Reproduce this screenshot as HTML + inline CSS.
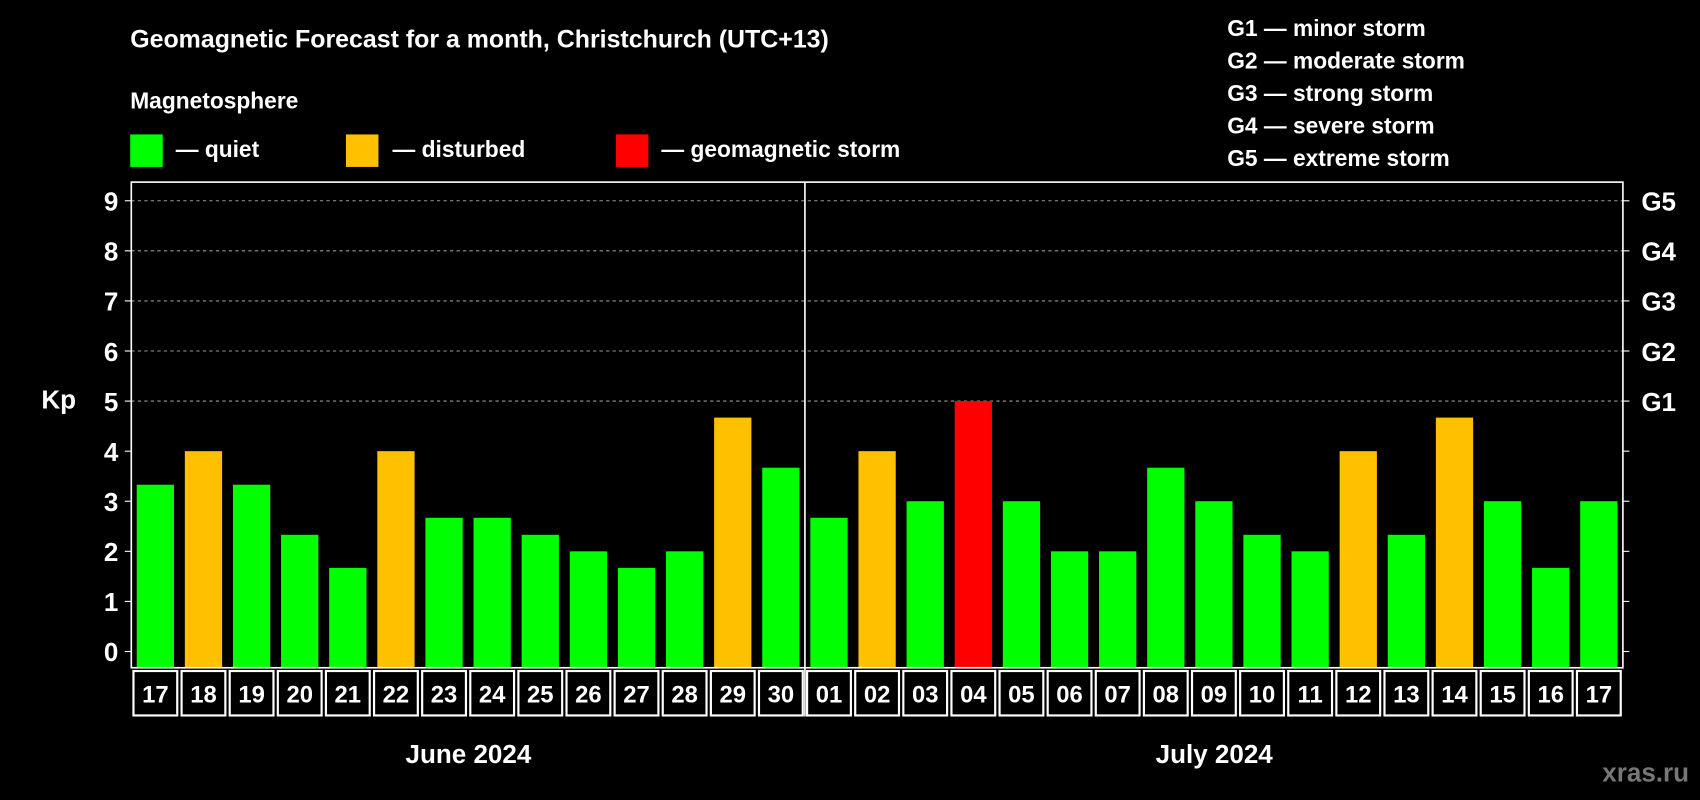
<!DOCTYPE html>
<html><head><meta charset="utf-8"><style>
html,body{margin:0;padding:0;background:#000;}
svg{display:block;font-family:"Liberation Sans",Arial,sans-serif;font-weight:bold;}
</style></head><body>
<svg id="chart" width="1700" height="800" viewBox="0 0 1568 738" xmlns="http://www.w3.org/2000/svg">
<rect x="0" y="0" width="1568" height="738" fill="#000"/>
<text x="120" y="44" fill="#fff" font-size="23">Geomagnetic Forecast for a month, Christchurch (UTC+13)</text>
<text x="120" y="100" fill="#fff" font-size="21">Magnetosphere</text>
<g><rect x="120" y="124" width="30" height="30" fill="#00ff00"/><text x="162" y="145" fill="#fff" font-size="21">— quiet</text></g>
<g><rect x="319" y="124" width="30" height="30" fill="#ffc000"/><text x="362" y="145" fill="#fff" font-size="21">— disturbed</text></g>
<g><rect x="568" y="124" width="30" height="30" fill="#ff0000"/><text x="610" y="145" fill="#fff" font-size="21">— geomagnetic storm</text></g>
<g fill="#fff" font-size="21">
<text x="1132" y="33">G1 — minor storm</text><text x="1132" y="63">G2 — moderate storm</text><text x="1132" y="93">G3 — strong storm</text><text x="1132" y="123">G4 — severe storm</text><text x="1132" y="153">G5 — extreme storm</text>
</g>
<text x="38" y="377" fill="#fff" font-size="24">Kp</text>
<text x="432" y="704" fill="#fff" font-size="24" text-anchor="middle">June 2024</text>
<text x="1120" y="704" fill="#fff" font-size="24" text-anchor="middle">July 2024</text>
<text x="1558" y="721" fill="#777" font-size="24" text-anchor="end">xras.ru</text>
<g id="plot"></g>
</svg>
<script>
const days=["17","18","19","20","21","22","23","24","25","26","27","28","29","30","01","02","03","04","05","06","07","08","09","10","11","12","13","14","15","16","17"];
const kp=[3.33,4,3.33,2.33,1.67,4,2.67,2.67,2.33,2,1.67,2,4.67,3.67,2.67,4,3,5,3,2,2,3.67,3,2.33,2,4,2.33,4.67,3,1.67,3];
const yTicks=[0,1,2,3,4,5,6,7,8,9];
const gLabels=["","","","","","G1","G2","G3","G4","G5"];
const NS="http://www.w3.org/2000/svg";
const L=121,R=1497,T=168,B=616,Y0=601,U=46.2;
const slot=(R-L)/days.length;
const x=i=>L+i*slot;
const y=v=>Y0-v*U;
const g=document.getElementById('plot');
function mk(t,a){const e=document.createElementNS(NS,t);for(const k in a)e.setAttribute(k,a[k]);g.appendChild(e);return e;}
yTicks.forEach(v=>{
  if(v>=5){const l=mk('line',{x1:L,x2:R,y1:y(v),y2:y(v),stroke:'#999','stroke-dasharray':'3,3','stroke-width':1});
  
  }
  const tl=mk('line',{x1:L-6,x2:L,y1:y(v),y2:y(v),stroke:'#fff'});
  
  
  const tr=mk('line',{x1:R,x2:R+6,y1:y(v),y2:y(v),stroke:'#fff'});
  
  
  const t=mk('text',{x:L-12,y:y(v)+9,fill:'#fff','font-size':24,'text-anchor':'end'});t.textContent=v;
  
  
  if(gLabels[v]){const gt=mk('text',{x:R+17,y:y(v)+9,fill:'#fff','font-size':24});gt.textContent=gLabels[v];
  
  }
});
kp.forEach((v,i)=>{
  const c=v>=5?'#ff0000':(v>=4?'#ffc000':'#00ff00');
  const b=mk('rect',{x:x(i)+5,y:y(v),width:slot-10,height:B-y(v),fill:c});
  
  
  const c2=mk('rect',{x:x(i)+2,y:B+3,width:slot-4,height:41,fill:'none',stroke:'#fff','stroke-width':2});
  
  
  const t=mk('text',{x:x(i)+slot/2,y:B+32,fill:'#fff','font-size':22,'text-anchor':'middle'});t.textContent=days[i];
  
  
});
const fr=mk('rect',{x:L,y:T,width:R-L,height:B-T,fill:'none',stroke:'#fff','stroke-width':1.5});


const sep=mk('line',{x1:x(14),x2:x(14),y1:T,y2:B+45,stroke:'#fff','stroke-width':1.5});


</script>
</body></html>
